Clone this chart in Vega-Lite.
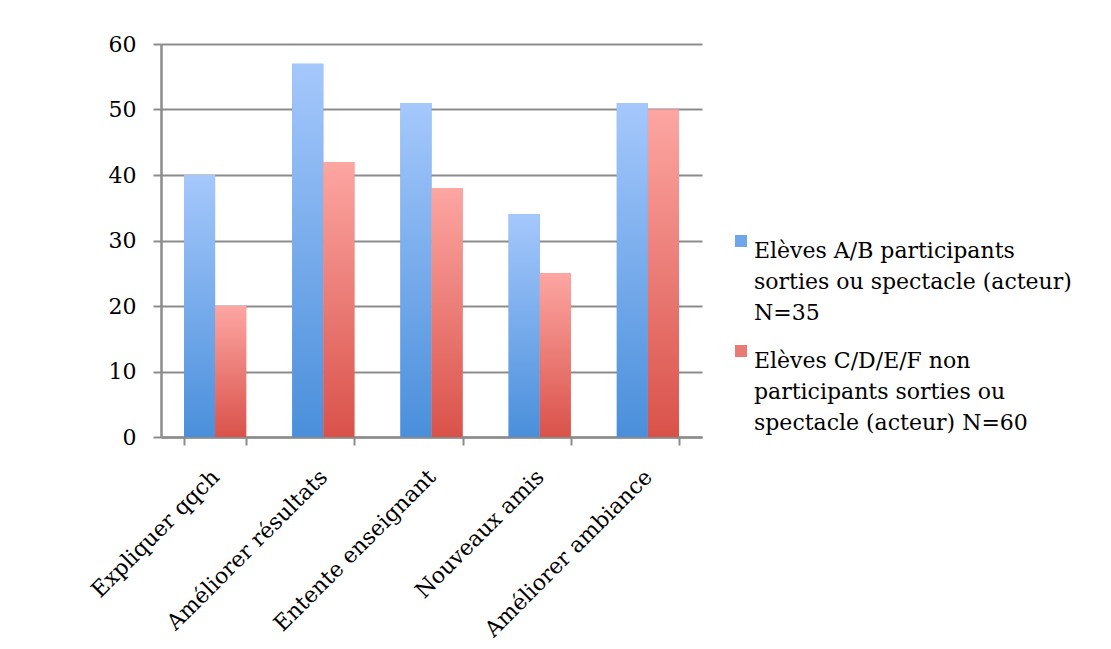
{
  "$schema": "https://vega.github.io/schema/vega-lite/v6.json",
  "width": 541,
  "height": 393,
  "autosize": {"type": "none"},
  "padding": {"left": 161, "top": 44, "right": 409, "bottom": 212},
  "background": "white",
  "data": {
    "values": [
      {"item": "Expliquer qqch", "groupe": "Elèves A/B participants|sorties ou spectacle (acteur)|N=35", "valeur": 40},
      {"item": "Expliquer qqch", "groupe": "Elèves C/D/E/F non|participants sorties ou|spectacle (acteur) N=60", "valeur": 20},
      {"item": "Améliorer résultats", "groupe": "Elèves A/B participants|sorties ou spectacle (acteur)|N=35", "valeur": 57},
      {"item": "Améliorer résultats", "groupe": "Elèves C/D/E/F non|participants sorties ou|spectacle (acteur) N=60", "valeur": 42},
      {"item": "Entente enseignant", "groupe": "Elèves A/B participants|sorties ou spectacle (acteur)|N=35", "valeur": 51},
      {"item": "Entente enseignant", "groupe": "Elèves C/D/E/F non|participants sorties ou|spectacle (acteur) N=60", "valeur": 38},
      {"item": "Nouveaux amis", "groupe": "Elèves A/B participants|sorties ou spectacle (acteur)|N=35", "valeur": 34},
      {"item": "Nouveaux amis", "groupe": "Elèves C/D/E/F non|participants sorties ou|spectacle (acteur) N=60", "valeur": 25},
      {"item": "Améliorer ambiance", "groupe": "Elèves A/B participants|sorties ou spectacle (acteur)|N=35", "valeur": 51},
      {"item": "Améliorer ambiance", "groupe": "Elèves C/D/E/F non|participants sorties ou|spectacle (acteur) N=60", "valeur": 50}
    ]
  },
  "encoding": {
    "x": {
      "field": "item",
      "type": "nominal",
      "sort": null,
      "title": null,
      "scale": {"paddingInner": 0.425, "paddingOuter": 0.2125},
      "axis": {
        "labelAngle": -45,
        "labelAlign": "right",
        "labelBaseline": "middle",
        "labelPadding": 28,
        "labelFont": "DejaVu Serif",
        "labelFontSize": 22,
        "labelColor": "#000000",
        "labelLimit": 400,
        "tickBand": "extent",
        "tickSize": 8,
        "tickColor": "#8c8c8c",
        "tickWidth": 2,
        "domainColor": "#8c8c8c",
        "domainWidth": 2.5,
        "grid": false
      }
    },
    "xOffset": {"field": "groupe", "type": "nominal", "sort": null},
    "y": {
      "field": "valeur",
      "type": "quantitative",
      "title": null,
      "scale": {"domain": [0, 60], "nice": false},
      "axis": {
        "values": [0, 10, 20, 30, 40, 50, 60],
        "labelFont": "DejaVu Serif",
        "labelFontSize": 22,
        "labelColor": "#000000",
        "labelPadding": 17,
        "tickSize": 8,
        "tickColor": "#8c8c8c",
        "tickWidth": 2,
        "domainColor": "#8c8c8c",
        "domainWidth": 2.5,
        "gridColor": "#8c8c8c",
        "gridWidth": 2,
        "gridOpacity": 1
      }
    }
  },
  "layer": [
    {
      "mark": {"type": "bar"},
      "encoding": {
        "color": {
          "field": "groupe",
          "type": "nominal",
          "sort": null,
          "title": null,
          "scale": {"range": ["#6fa6ea", "#ea7a74"]},
          "legend": {
            "orient": "none",
            "legendX": 569,
            "legendY": 186,
            "padding": 0,
            "symbolType": "square",
            "symbolSize": 144,
            "symbolStrokeWidth": 0,
            "labelExpr": "split(datum.label, '|')",
            "labelFont": "DejaVu Serif",
            "labelFontSize": 22,
            "labelColor": "#000000",
            "labelLimit": 500,
            "labelBaseline": "top",
            "labelOffset": 2,
            "rowPadding": 16
          }
        }
      }
    },
    {
      "transform": [{"filter": "indexof(datum.groupe, 'A/B') >= 0"}],
      "mark": {
        "type": "bar",
        "color": {"gradient": "linear", "x1": 0, "y1": 0, "x2": 0, "y2": 1,
          "stops": [{"offset": 0, "color": "#a5c8fc"}, {"offset": 1, "color": "#4a8fdb"}]}
      }
    },
    {
      "transform": [{"filter": "indexof(datum.groupe, 'C/D') >= 0"}],
      "mark": {
        "type": "bar",
        "color": {"gradient": "linear", "x1": 0, "y1": 0, "x2": 0, "y2": 1,
          "stops": [{"offset": 0, "color": "#fda6a2"}, {"offset": 1, "color": "#d9524a"}]}
      }
    }
  ],
  "config": {
    "view": {"stroke": null},
    "style": {"guide-label": {"lineHeight": 31}}
  }
}
